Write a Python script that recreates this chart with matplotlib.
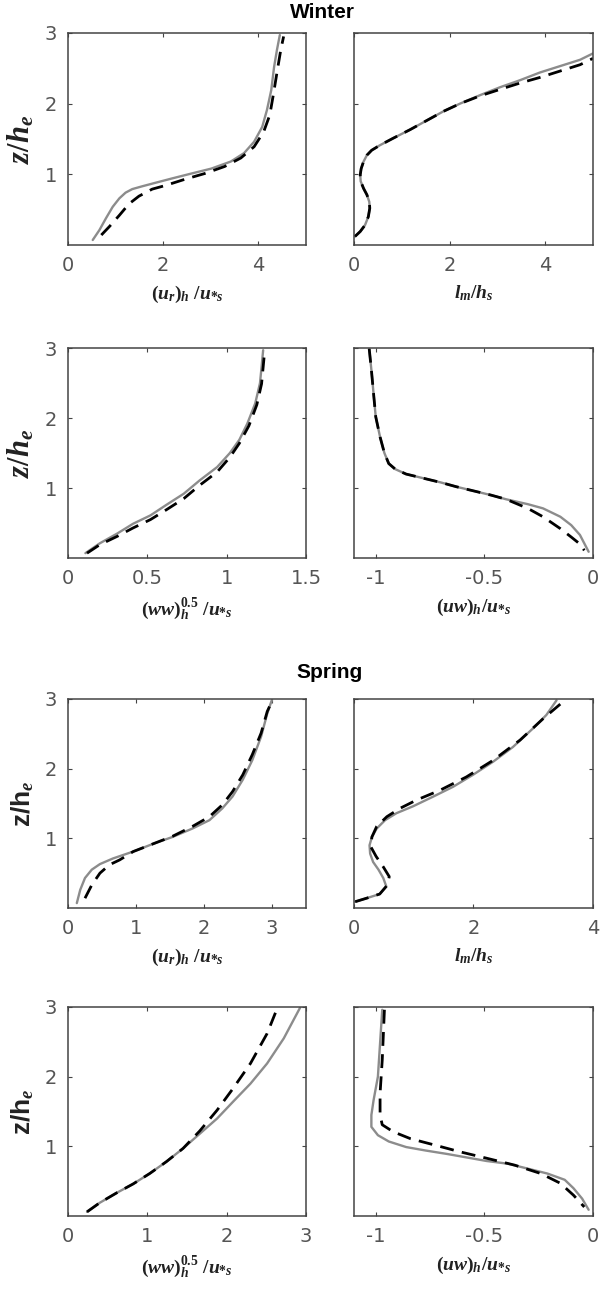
import matplotlib
matplotlib.use("Agg")
import matplotlib.pyplot as plt

plt.rcParams['font.family'] = ['DejaVu Sans']
plt.rcParams['mathtext.fontset'] = 'custom'
plt.rcParams['mathtext.it'] = 'Liberation Serif:italic:bold'
plt.rcParams['mathtext.rm'] = 'Liberation Serif:bold'
plt.rcParams['mathtext.bf'] = 'Liberation Sans:bold'

# ---- Winter profiles (model: solid grey, reference: dashed black) ----
w_u_z_solid = [0.07, 0.21, 0.38, 0.54, 0.66, 0.74, 0.79, 0.83, 0.88, 0.94, 1.01,
               1.08, 1.18, 1.30, 1.46, 1.67, 1.91, 2.19, 2.52, 2.76, 2.97]
w_u_x_solid = [0.52, 0.66, 0.80, 0.94, 1.08, 1.21, 1.35, 1.56, 1.84, 2.18, 2.59,
               3.01, 3.42, 3.70, 3.91, 4.08, 4.18, 4.27, 4.33, 4.39, 4.45]
w_u_z_dash = [0.14, 0.26, 0.42, 0.58, 0.69, 0.79, 0.84, 0.93, 1.01, 1.11, 1.23,
              1.39, 1.60, 1.84, 2.15, 2.48, 2.76, 2.95]
w_u_x_dash = [0.70, 0.87, 1.08, 1.28, 1.49, 1.77, 2.04, 2.46, 2.87, 3.29, 3.63,
              3.91, 4.11, 4.24, 4.32, 4.40, 4.47, 4.53]

w_lm_z_solid = [0.12, 0.19, 0.28, 0.40, 0.52, 0.61, 0.71, 0.80, 0.90, 0.99, 1.08,
                1.18, 1.27, 1.34, 1.41, 1.51, 1.63, 1.76, 1.89, 2.00, 2.12,
                2.23, 2.33, 2.44, 2.53, 2.62, 2.71]
w_lm_x_solid = [0.02, 0.13, 0.23, 0.30, 0.33, 0.32, 0.27, 0.20, 0.14, 0.13, 0.15,
                0.20, 0.27, 0.37, 0.54, 0.82, 1.17, 1.52, 1.87, 2.22, 2.64,
                3.05, 3.47, 3.89, 4.31, 4.73, 5.00]
w_lm_z_dash = [0.12, 0.19, 0.28, 0.40, 0.52, 0.61, 0.71, 0.80, 0.90, 0.99, 1.08,
               1.18, 1.27, 1.34, 1.41, 1.51, 1.63, 1.76, 1.89, 2.00, 2.11,
               2.20, 2.29, 2.37, 2.46, 2.55, 2.64]
w_lm_x_dash = w_lm_x_solid

w_ww_z_solid = [0.07, 0.21, 0.35, 0.49, 0.61, 0.76, 0.92, 1.11, 1.30, 1.50, 1.69,
                1.92, 2.21, 2.50, 2.73, 2.97]
w_ww_x_solid = [0.11, 0.20, 0.31, 0.41, 0.52, 0.62, 0.73, 0.83, 0.94, 1.02, 1.08,
                1.13, 1.18, 1.21, 1.22, 1.23]
w_ww_z_dash = [0.07, 0.19, 0.31, 0.43, 0.55, 0.69, 0.85, 1.04, 1.23, 1.44, 1.64,
               1.89, 2.19, 2.49, 2.73, 2.97]
w_ww_x_dash = [0.12, 0.20, 0.31, 0.41, 0.52, 0.62, 0.73, 0.83, 0.94, 1.02, 1.08,
               1.14, 1.19, 1.22, 1.23, 1.24]

w_uw_z_solid = [2.99, 2.69, 2.35, 2.02, 1.73, 1.50, 1.35, 1.27, 1.20, 1.14, 1.08,
                1.02, 0.96, 0.90, 0.84, 0.77, 0.71, 0.59, 0.47, 0.33, 0.21, 0.09]
w_uw_x_solid = [-1.03, -1.02, -1.01, -1.00, -0.98, -0.96, -0.94, -0.91, -0.86, -0.78,
                -0.70, -0.63, -0.55, -0.47, -0.40, -0.30, -0.23, -0.15, -0.10, -0.06,
                -0.04, -0.02]
w_uw_z_dash = [2.99, 2.69, 2.35, 2.02, 1.73, 1.50, 1.35, 1.27, 1.20, 1.14, 1.08,
               1.02, 0.96, 0.90, 0.84, 0.71, 0.59, 0.42, 0.30, 0.20, 0.11]
w_uw_x_dash = [-1.03, -1.02, -1.01, -1.00, -0.98, -0.96, -0.94, -0.91, -0.86, -0.78,
               -0.70, -0.63, -0.55, -0.47, -0.40, -0.30, -0.23, -0.15, -0.10, -0.06,
               -0.04]

# ---- Spring profiles ----
s_u_z_solid = [0.07, 0.26, 0.43, 0.55, 0.63, 0.71, 0.81, 0.92, 1.02, 1.14, 1.26,
               1.43, 1.60, 1.84, 2.12, 2.46, 2.79, 2.99]
s_u_x_solid = [0.13, 0.18, 0.25, 0.35, 0.47, 0.66, 0.96, 1.25, 1.54, 1.83, 2.08,
               2.27, 2.42, 2.57, 2.71, 2.84, 2.93, 3.00]
s_u_z_dash = [0.14, 0.33, 0.50, 0.62, 0.69, 0.81, 0.92, 1.03, 1.17, 1.31, 1.48,
              1.67, 1.91, 2.20, 2.51, 2.82, 2.99]
s_u_x_dash = [0.25, 0.35, 0.47, 0.61, 0.76, 0.96, 1.25, 1.54, 1.83, 2.08, 2.27,
              2.42, 2.57, 2.71, 2.84, 2.93, 3.01]

s_lm_z_solid = [0.09, 0.14, 0.20, 0.31, 0.43, 0.55, 0.66, 0.78, 0.90, 1.02, 1.14,
                1.26, 1.36, 1.46, 1.60, 1.74, 1.91, 2.10, 2.31, 2.58, 2.77, 2.98]
s_lm_x_solid = [0.02, 0.21, 0.43, 0.54, 0.49, 0.41, 0.32, 0.27, 0.26, 0.30, 0.38,
                0.52, 0.71, 0.99, 1.33, 1.66, 1.99, 2.33, 2.66, 3.00, 3.22, 3.39]
s_lm_z_dash = [0.09, 0.14, 0.20, 0.33, 0.45, 0.59, 0.74, 0.88, 1.02, 1.17, 1.31,
               1.43, 1.55, 1.69, 1.88, 2.12, 2.41, 2.72, 2.96]
s_lm_x_dash = [0.02, 0.21, 0.43, 0.56, 0.59, 0.49, 0.37, 0.28, 0.30, 0.38, 0.55,
               0.77, 1.05, 1.44, 1.88, 2.33, 2.78, 3.17, 3.50]

s_ww_z_solid = [0.06, 0.19, 0.33, 0.46, 0.61, 0.78, 0.97, 1.18, 1.40, 1.64, 1.90,
                2.19, 2.55, 3.00]
s_ww_x_solid = [0.24, 0.40, 0.61, 0.82, 1.03, 1.24, 1.45, 1.66, 1.88, 2.08, 2.30,
                2.51, 2.72, 2.93]
s_ww_z_dash = [0.06, 0.19, 0.33, 0.46, 0.61, 0.78, 0.97, 1.22, 1.52, 1.83, 2.19,
               2.62, 2.96]
s_ww_x_dash = [0.24, 0.40, 0.61, 0.82, 1.03, 1.24, 1.45, 1.66, 1.88, 2.08, 2.30,
               2.51, 2.63]

s_uw_z_solid = [2.96, 2.48, 2.00, 1.66, 1.45, 1.28, 1.16, 1.07, 0.99, 0.94, 0.89,
                0.84, 0.79, 0.75, 0.68, 0.61, 0.52, 0.40, 0.25, 0.09]
s_uw_x_solid = [-0.97, -0.98, -0.99, -1.01, -1.02, -1.02, -0.99, -0.94, -0.86, -0.77,
                -0.67, -0.58, -0.49, -0.39, -0.30, -0.21, -0.13, -0.09, -0.05, -0.02]
s_uw_z_dash = [2.96, 2.24, 1.76, 1.45, 1.31, 1.21, 1.11, 1.02, 0.92, 0.83, 0.73,
               0.61, 0.47, 0.30, 0.13]
s_uw_x_dash = [-0.96, -0.97, -0.98, -0.98, -0.97, -0.92, -0.84, -0.73, -0.61, -0.49,
               -0.36, -0.24, -0.15, -0.09, -0.04]

tick_color = '#555555'
lab_u = r'$(u_r)_h\ /u_{*s}$'
lab_lm = r'$l_m/h_s$'
lab_ww = r'$(ww)_h^{0.5}\ /u_{*s}$'
lab_uw = r'$(uw)_h/u_{*s}$'


def draw_panel(rect, xs, zs, xd, zd, xlim, xticks, xlabel, ylabel=None, ysize=20):
    ax = fig.add_axes(rect)
    ax.plot(xs, zs, color='#8c8c8c', lw=1.7, solid_capstyle='round')
    ax.plot(xd, zd, color='black', lw=2.0, dashes=(5, 3))
    ax.set_xlim(xlim)
    ax.set_ylim(0, 3)
    ax.set_xticks(xticks)
    ax.set_xticklabels([('%g' % t) for t in xticks])
    ax.set_yticks([1, 2, 3])
    ax.tick_params(direction='in', top=True, right=True, length=3,
                   width=0.8, colors='#444444', labelcolor=tick_color,
                   labelsize=14, pad=8)
    if ylabel is None:
        ax.set_yticklabels([])
    else:
        ax.set_ylabel(ylabel, fontsize=ysize, labelpad=6, color='#222222')
    for sp in ax.spines.values():
        sp.set_color('#444444')
        sp.set_linewidth(1.1)
    ax.set_xlabel(xlabel, fontsize=14, labelpad=6, color='#222222')
    return ax


fig = plt.figure(figsize=(6, 12.96), dpi=100)

colx = [0.1133, 0.59]
colw = [0.3967, 0.3983]
rows = [(0.8110, 0.1636), (0.5694, 0.1620), (0.2994, 0.1613), (0.0617, 0.1613)]
ylab_w = r'$z/h_e$'
ylab_s = r'$\mathbf{z/h}_{e}$'

draw_panel([colx[0], rows[0][0], colw[0], rows[0][1]], w_u_x_solid, w_u_z_solid,
           w_u_x_dash, w_u_z_dash, (0, 5), [0, 2, 4], lab_u, ylab_w, 22)
draw_panel([colx[1], rows[0][0], colw[1], rows[0][1]], w_lm_x_solid, w_lm_z_solid,
           w_lm_x_dash, w_lm_z_dash, (0, 5), [0, 2, 4], lab_lm)
draw_panel([colx[0], rows[1][0], colw[0], rows[1][1]], w_ww_x_solid, w_ww_z_solid,
           w_ww_x_dash, w_ww_z_dash, (0, 1.5), [0, 0.5, 1, 1.5], lab_ww, ylab_w, 22)
draw_panel([colx[1], rows[1][0], colw[1], rows[1][1]], w_uw_x_solid, w_uw_z_solid,
           w_uw_x_dash, w_uw_z_dash, (-1.1, 0), [-1, -0.5, 0], lab_uw)

draw_panel([colx[0], rows[2][0], colw[0], rows[2][1]], s_u_x_solid, s_u_z_solid,
           s_u_x_dash, s_u_z_dash, (0, 3.5), [0, 1, 2, 3], lab_u, ylab_s, 19)
draw_panel([colx[1], rows[2][0], colw[1], rows[2][1]], s_lm_x_solid, s_lm_z_solid,
           s_lm_x_dash, s_lm_z_dash, (0, 4), [0, 2, 4], lab_lm)
draw_panel([colx[0], rows[3][0], colw[0], rows[3][1]], s_ww_x_solid, s_ww_z_solid,
           s_ww_x_dash, s_ww_z_dash, (0, 3), [0, 1, 2, 3], lab_ww, ylab_s, 19)
draw_panel([colx[1], rows[3][0], colw[1], rows[3][1]], s_uw_x_solid, s_uw_z_solid,
           s_uw_x_dash, s_uw_z_dash, (-1.1, 0), [-1, -0.5, 0], lab_uw)

fig.text(0.537, 1 - 12 / 1296, 'Winter', ha='center', va='center',
         fontsize=15, fontweight='bold', family='Liberation Sans')
fig.text(0.55, 1 - 672 / 1296, 'Spring', ha='center', va='center',
         fontsize=15, fontweight='bold', family='Liberation Sans')

fig.savefig('out.png', dpi=100, facecolor='white')
